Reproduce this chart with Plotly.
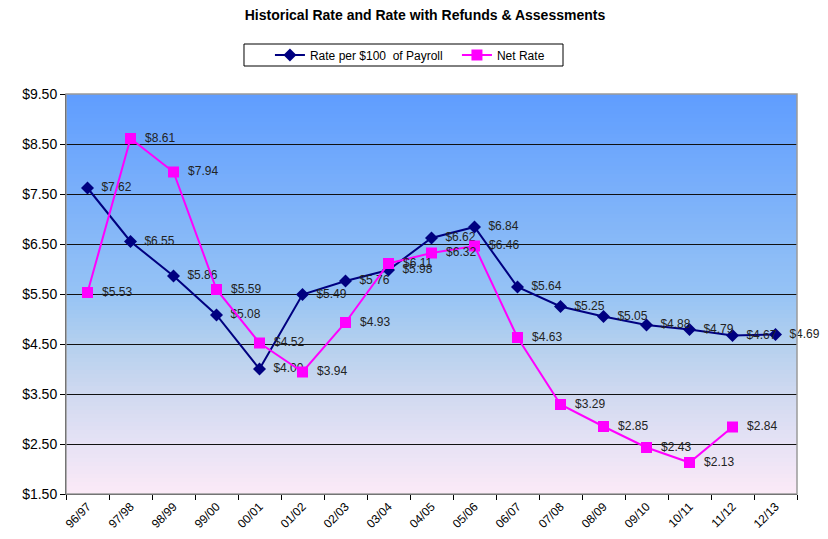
import plotly.graph_objects as go

categories = ["96/97", "97/98", "98/99", "99/00", "00/01", "01/02", "02/03", "03/04", "04/05",
              "05/06", "06/07", "07/08", "08/09", "09/10", "10/11", "11/12", "12/13"]
rate_per_100 = [7.62, 6.55, 5.86, 5.08, 4.00, 5.49, 5.76, 5.98, 6.62, 6.84, 5.64, 5.25, 5.05,
                4.88, 4.79, 4.67, 4.69]
net_rate = [5.53, 8.61, 7.94, 5.59, 4.52, 3.94, 4.93, 6.11, 6.32, 6.46, 4.63, 3.29, 2.85, 2.43,
            2.13, 2.84]
y_ticks = [1.5, 2.5, 3.5, 4.5, 5.5, 6.5, 7.5, 8.5, 9.5]

FONT = "Liberation Sans, Arial, sans-serif"

fig = go.Figure()
fig.add_trace(go.Scatter(
    x=categories, y=rate_per_100, name="Rate per $100  of Payroll",
    mode="lines+markers+text",
    line=dict(color="#000080", width=2),
    marker=dict(symbol="diamond", size=10, color="#000080"),
    text=["  $%.2f" % v for v in rate_per_100], textposition="middle right",
    textfont=dict(family=FONT, size=12, color="#222222"),
    cliponaxis=False,
))
fig.add_trace(go.Scatter(
    x=categories[:len(net_rate)], y=net_rate, name="Net Rate",
    mode="lines+markers+text",
    line=dict(color="#ff00ff", width=2),
    marker=dict(symbol="square", size=11, color="#ff00ff"),
    text=["  $%.2f" % v for v in net_rate], textposition="middle right",
    textfont=dict(family=FONT, size=12, color="#222222"),
    cliponaxis=False,
))

# gradient background of plot area
stops = [(0.0, (95, 157, 255)), (0.5, (150, 195, 245)), (0.625, (180, 208, 238)),
         (0.75, (208, 217, 240)), (0.875, (230, 226, 245)), (1.0, (252, 234, 247))]

def col(t):
    for (t0, c0), (t1, c1) in zip(stops[:-1], stops[1:]):
        if t0 <= t <= t1:
            f = (t - t0) / (t1 - t0) if t1 > t0 else 0
            return "rgb(%d,%d,%d)" % tuple(round(a + (b - a) * f) for a, b in zip(c0, c1))
    return "rgb(%d,%d,%d)" % stops[-1][1]

N = 100
shapes = []
for i in range(N):
    t = (i + 0.5) / N
    shapes.append(dict(type="rect", xref="x domain", yref="y domain",
                       x0=0, x1=1, y1=1 - i / N, y0=1 - (i + 1) / N - 0.002,
                       fillcolor=col(t), line=dict(width=0), layer="below"))
shapes.append(dict(type="rect", xref="x domain", yref="y domain", x0=0, x1=1, y0=0, y1=1,
                   line=dict(color="#9a9a9a", width=1.5), fillcolor="rgba(0,0,0,0)", layer="above"))
# legend frame
shapes.append(dict(type="rect", xref="paper", yref="paper", x0=0.2435, x1=0.6799,
                   y0=1.07, y1=1.125, line=dict(color="#000000", width=1),
                   fillcolor="white", layer="below"))

fig.update_layout(
    width=828, height=539,
    margin=dict(l=58, r=39, t=86, b=53),
    paper_bgcolor="white", plot_bgcolor="rgba(0,0,0,0)",
    font=dict(family=FONT, size=12, color="#000000"),
    title=dict(text="<b>Historical Rate and Rate with Refunds & Assessments</b>",
               x=0.5036, xanchor="center", y=0.987, yanchor="middle",
               font=dict(family=FONT, size=14, color="#000000")),
    showlegend=True,
    legend=dict(orientation="h", x=0.279, xanchor="left", y=1.0975, yanchor="middle",
                borderwidth=0, bgcolor="rgba(0,0,0,0)",
                font=dict(family=FONT, size=12, color="#000000"),
                entrywidth=142, entrywidthmode="pixels", tracegroupgap=0),
    shapes=shapes,
    xaxis=dict(type="category", tickson="boundaries", ticks="outside", ticklen=5,
               tickcolor="#000000", tickangle=-45, showgrid=False, showline=True,
               linecolor="#000000", linewidth=1, range=[-0.5, 16.5],
               tickfont=dict(family=FONT, size=12, color="#000000"), automargin=False),
    yaxis=dict(range=[1.5, 9.5], tickvals=y_ticks, ticktext=["$%.2f" % v for v in y_ticks],
               ticks="outside", ticklen=5, tickcolor="#000000", showgrid=True,
               gridcolor="#111111", gridwidth=1, showline=True, linecolor="#000000",
               linewidth=1, zeroline=False,
               tickfont=dict(family=FONT, size=14, color="#000000"), automargin=False),
)

fig.write_html("out.html")
